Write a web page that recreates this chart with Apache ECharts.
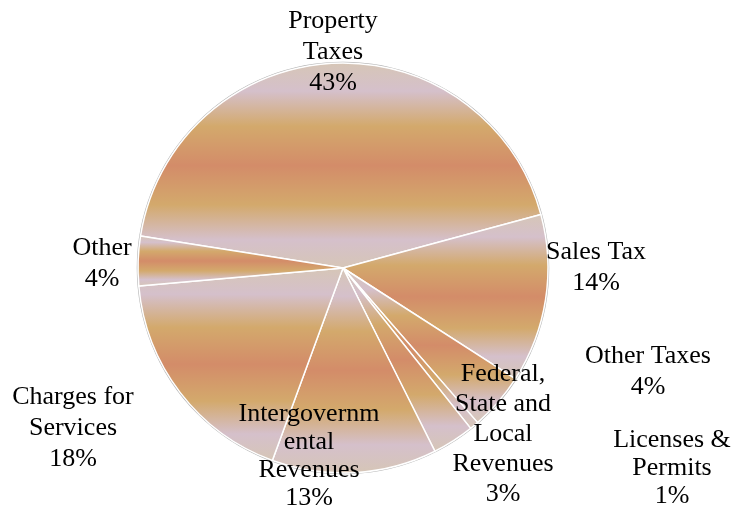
<!DOCTYPE html>
<html>
<head>
<meta charset="utf-8">
<script src="https://cdn.jsdelivr.net/npm/echarts@6/dist/echarts.min.js"></script>
<style>
  html, body { margin: 0; padding: 0; background: #fff; }
  #chart { width: 732px; height: 512px; }
</style>
</head>
<body>
<div id="chart"></div>
<script>
  // slice names (line breaks as wrapped in the original)
  const categories = [
    'Property\nTaxes',
    'Sales Tax',
    'Other Taxes',
    'Licenses &\nPermits',
    'Federal,\nState and\nLocal\nRevenues',
    'Intergovernm\nental\nRevenues',
    'Charges for\nServices',
    'Other'
  ]
  // shares
  const values = [43.3, 13.3, 4.5, 0.7, 3.3, 13.0, 18.0, 3.9]
  // percentages printed on the labels
  const pctLabels = [43, 14, 4, 1, 3, 13, 18, 4]

  // label centres, kept apart from the data
  const labelPos = [
    [333, 52], [596, 268], [648, 372], [672, 468],
    [503, 434], [309, 456], [73, 428], [102, 264]
  ]
  const labelLineHeight = [31, 31, 31, 28, 30, 28, 31, 31]

  const chart = echarts.init(document.getElementById('chart'))

  // banded fill, applied to each slice's own box
  const sliceFill = new echarts.graphic.LinearGradient(0, 0, 0, 1, [
    { offset: 0, color: '#D6C6B6' },
    { offset: 0.14, color: '#D5C0CB' },
    { offset: 0.31, color: '#D3A96C' },
    { offset: 0.5, color: '#D38C69' },
    { offset: 0.69, color: '#D3A96C' },
    { offset: 0.86, color: '#D5C0CB' },
    { offset: 1, color: '#D6C6B6' }
  ])

  const option = {
    backgroundColor: '#fff',
    animation: false,
    series: [
      {
        type: 'pie',
        center: [343, 268],
        radius: 205,
        startAngle: 171,
        clockwise: true,
        silent: true,
        itemStyle: {
          color: sliceFill,
          borderColor: '#fff',
          borderWidth: 1.5
        },
        label: {
          show: true,
          position: 'outside',
          fontFamily: 'Liberation Serif',
          fontSize: 26,
          color: '#000',
          align: 'center',
          formatter: p => p.name + '\n' + pctLabels[p.dataIndex] + '%'
        },
        labelLine: { show: false },
        labelLayout: p => ({
          x: labelPos[p.dataIndex][0],
          y: labelPos[p.dataIndex][1],
          align: 'center',
          verticalAlign: 'middle'
        }),
        data: categories.map((name, i) => ({
          name,
          value: values[i],
          label: { lineHeight: labelLineHeight[i] }
        }))
      },
      {
        // thin grey rim round the pie
        type: 'pie',
        center: [343, 268],
        radius: 205.5,
        silent: true,
        z: 1,
        itemStyle: { color: 'transparent', borderColor: '#B4B4B4', borderWidth: 1.5 },
        label: { show: false },
        labelLine: { show: false },
        data: [{ value: 1, name: 'rim' }]
      }
    ]
  }
  chart.setOption(option)
</script>
</body>
</html>
